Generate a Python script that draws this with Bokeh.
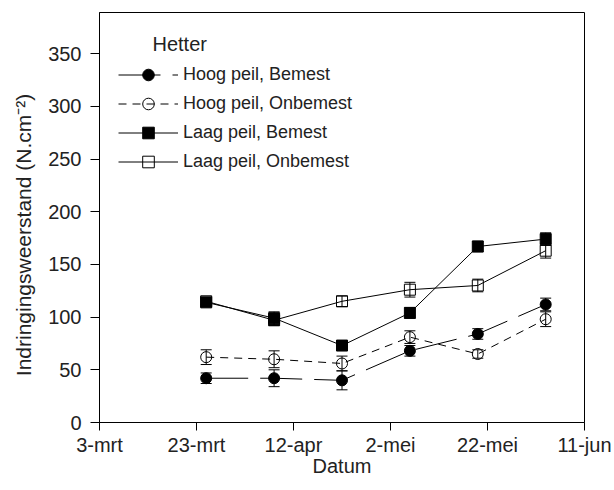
from datetime import datetime
from bokeh.plotting import figure
from bokeh.models import (ColumnDataSource, Whisker, TeeHead, FixedTicker, Legend,
                          LegendItem, Label, Range1d)
from bokeh.embed import file_html
from bokeh.resources import INLINE

# ---- data ----
dates = [datetime(2003, 3, 25), datetime(2003, 4, 8), datetime(2003, 4, 22),
         datetime(2003, 5, 6), datetime(2003, 5, 20), datetime(2003, 6, 3)]

hoog_bemest = [42, 42, 40, 68, 84, 112]
hoog_bemest_err = [5, 8, 9, 5, 5, 6]
hoog_onbemest = [62, 60, 56, 81, 65, 98]
hoog_onbemest_err = [7, 8, 7, 6, 4, 7]
laag_bemest = [114, 99, 73, 104, 167, 174]
laag_bemest_err = [4, 6, 4, 5, 5, 6]
laag_onbemest = [115, 97, 115, 126, 130, 163]
laag_onbemest_err = [3, 5, 5, 7, 6, 7]

tick_dates = [datetime(2003, 3, 3), datetime(2003, 3, 23), datetime(2003, 4, 12),
              datetime(2003, 5, 2), datetime(2003, 5, 22), datetime(2003, 6, 11)]
tick_labels = ["3-mrt", "23-mrt", "12-apr", "2-mei", "22-mei", "11-jun"]
y_ticks = [0, 50, 100, 150, 200, 250, 300, 350]

series = [
    ("Hoog peil, Bemest", hoog_bemest, hoog_bemest_err, "circle", True, "42 12"),
    ("Hoog peil, Onbemest", hoog_onbemest, hoog_onbemest_err, "circle", False, "8 6"),
    ("Laag peil, Bemest", laag_bemest, laag_bemest_err, "square", True, "solid"),
    ("Laag peil, Onbemest", laag_onbemest, laag_onbemest_err, "square", False, "solid"),
]

FONT = "Liberation Sans"
TXT = "#222222"


def ms(d):
    return (d - datetime(1970, 1, 1)).total_seconds() * 1000.0


p = figure(width=614, height=490, x_axis_type="datetime",
           x_range=Range1d(tick_dates[0], tick_dates[-1]),
           y_range=Range1d(0, 389),
           output_backend="svg", toolbar_location=None,
           min_border_left=99, min_border_right=30, min_border_top=12, min_border_bottom=68)
p.xgrid.visible = False
p.ygrid.visible = False
p.outline_line_color = "black"
p.outline_line_width = 1

p.xaxis.ticker = FixedTicker(ticks=[ms(d) for d in tick_dates])
p.xaxis.major_label_overrides = {ms(d): lab for d, lab in zip(tick_dates, tick_labels)}
p.yaxis.ticker = FixedTicker(ticks=y_ticks)
p.xaxis.axis_label = "Datum"
# trailing no-break spaces shift the centred title slightly downwards, as in the original
p.yaxis.axis_label = "Indringingsweerstand (N.cm\u207b\u00b2)" + "\u00a0" * 6

for ax in (p.xaxis, p.yaxis):
    ax.axis_line_color = "black"
    ax.major_tick_line_color = "black"
    ax.minor_tick_line_color = None
    ax.major_tick_in = 0
    ax.major_label_text_font = FONT
    ax.major_label_text_color = TXT
    ax.major_label_text_font_size = "20px"
    ax.axis_label_text_font = FONT
    ax.axis_label_text_color = TXT
    ax.axis_label_text_font_size = "20px"
    ax.axis_label_text_font_style = "normal"
p.yaxis.axis_label_text_font_size = "21px"
p.xaxis.major_tick_out = 8
p.yaxis.major_tick_out = 9
p.xaxis.major_label_standoff = 3
p.xaxis.axis_label_standoff = -4
p.yaxis.major_label_standoff = 9
p.yaxis.axis_label_standoff = 10

items = []
for name, vals, errs, marker, filled, dash in series:
    src = ColumnDataSource(dict(
        x=dates, y=vals,
        lo=[v - e for v, e in zip(vals, errs)],
        hi=[v + e for v, e in zip(vals, errs)],
    ))
    lr = p.line("x", "y", source=src, line_color="black", line_width=1, line_dash=dash)
    w = Whisker(base="x", lower="lo", upper="hi", source=src, line_color="black",
                line_width=1,
                upper_head=TeeHead(size=11, line_color="black", line_width=1),
                lower_head=TeeHead(size=11, line_color="black", line_width=1))
    p.add_layout(w)
    sr = p.scatter("x", "y", source=src, marker=marker, size=11,
                   line_color="black", line_width=1,
                   fill_color="black" if filled else None,
                   fill_alpha=1 if filled else 0)
    items.append(LegendItem(label=name, renderers=[lr, sr]))

legend = Legend(items=items, location=(19, 246), margin=0, padding=0,
                spacing=0, glyph_width=60, glyph_height=29, label_height=29,
                label_standoff=5, border_line_alpha=0, background_fill_alpha=0,
                label_text_font=FONT, label_text_color=TXT,
                label_text_font_size="18px")
p.add_layout(legend)

p.add_layout(Label(x=53, y=379, x_units="screen", y_units="screen", text="Hetter",
                   text_font=FONT, text_color=TXT, text_font_size="20px",
                   text_baseline="middle", text_align="left"))

open("out.html", "w").write(file_html(p, INLINE))
